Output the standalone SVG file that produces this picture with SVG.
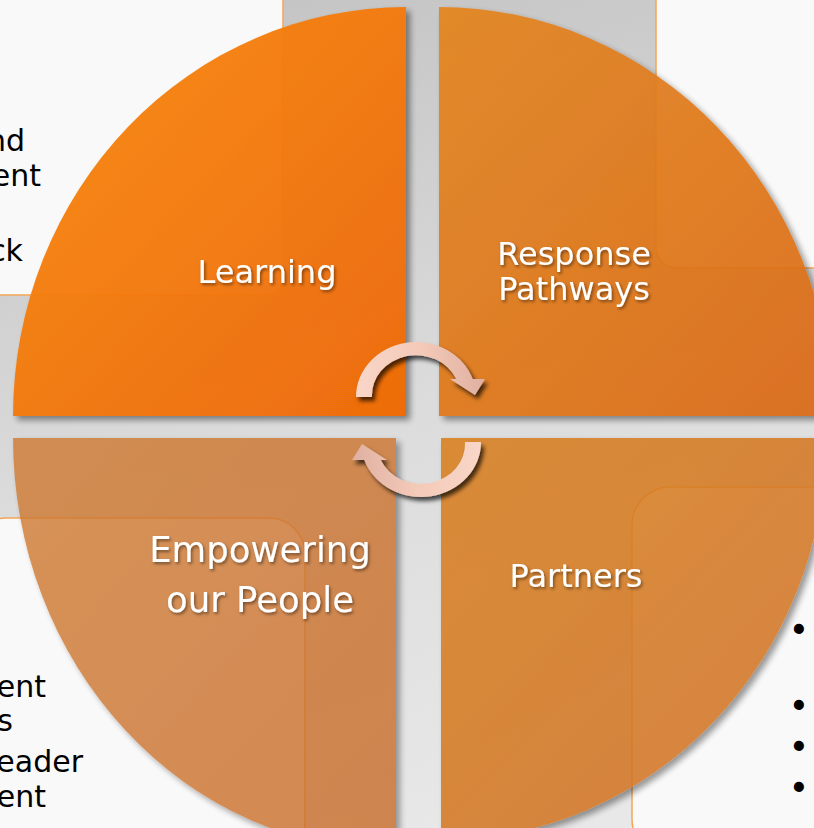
<svg xmlns="http://www.w3.org/2000/svg" width="814" height="828" viewBox="0 0 814 828">
<defs>
<linearGradient id="bg" gradientUnits="userSpaceOnUse" x1="300" y1="0" x2="520" y2="828">
<stop offset="0" stop-color="#c5c5c5"/><stop offset="0.5" stop-color="#dcdcdc"/><stop offset="1" stop-color="#e8e8e8"/>
</linearGradient>
<linearGradient id="gTL" x1="0" y1="0" x2="1" y2="1">
<stop offset="0" stop-color="#f88a12"/><stop offset="1" stop-color="#ee6805"/>
</linearGradient>
<linearGradient id="gTR" x1="0" y1="0" x2="1" y2="1">
<stop offset="0" stop-color="#e4851f"/><stop offset="1" stop-color="#da6812"/>
</linearGradient>
<linearGradient id="gBL" x1="0" y1="0" x2="1" y2="1">
<stop offset="0" stop-color="#cf7a30"/><stop offset="1" stop-color="#c96c2a"/>
</linearGradient>
<linearGradient id="gBR" x1="0" y1="0" x2="1" y2="1">
<stop offset="0" stop-color="#d9801f"/><stop offset="1" stop-color="#d0722a"/>
</linearGradient>
<linearGradient id="gArrow" x1="0" y1="0" x2="1" y2="0">
<stop offset="0" stop-color="#f8d6c8"/><stop offset="0.5" stop-color="#f4cab9"/><stop offset="1" stop-color="#dfb0a1"/>
</linearGradient>
<filter id="shadow" x="-10%" y="-10%" width="125%" height="125%">
<feDropShadow dx="4" dy="4" stdDeviation="3" flood-color="#000" flood-opacity="0.45"/>
</filter>
<filter id="ashadow" x="-20%" y="-20%" width="150%" height="150%">
<feDropShadow dx="3" dy="4" stdDeviation="2" flood-color="#000" flood-opacity="0.7"/>
</filter>
<filter id="tshadow" x="-10%" y="-20%" width="130%" height="150%">
<feDropShadow dx="1.5" dy="2" stdDeviation="1.5" flood-color="#000" flood-opacity="0.45"/>
</filter>
<path id="arrowTop" d="M 356 397 A 60 55 0 0 1 472.7 379 L 485 379 L 475 395 L 450 379 L 456.2 379 A 44 40 0 0 0 372 397 Z"/>
</defs>
<style>
.box{fill:#f9f9f9;stroke:#f2a65a;stroke-width:1.5}
.side{font-family:"DejaVu Sans",Verdana,sans-serif;font-size:30px;fill:#000}
.lab{font-family:"DejaVu Sans",Verdana,sans-serif;fill:#fff;text-anchor:middle}
.bul{font-family:"Liberation Sans",Arial,sans-serif;font-size:35px;font-weight:bold;fill:#000;text-anchor:middle}
</style>
<rect x="0" y="0" width="814" height="828" fill="url(#bg)"/>
<g id="box-tl"><rect class="box" x="-30" y="-30" width="313" height="325" rx="16"/>
<text class="side" x="25" y="151" text-anchor="end">nd</text>
<text class="side" x="41" y="186" text-anchor="end">ent</text>
<text class="side" x="23" y="261" text-anchor="end">ck</text></g>
<g id="box-tr"><rect class="box" x="656" y="-30" width="200" height="298" rx="20"/></g>
<g id="box-bl"><rect class="box" x="-30" y="518" width="335" height="340" rx="36"/>
<text class="side" x="46" y="697" text-anchor="end">ent</text>
<text class="side" x="13" y="731" text-anchor="end">s</text>
<text class="side" x="83" y="772" text-anchor="end">eader</text>
<text class="side" x="46" y="807" text-anchor="end">ent</text></g>
<g id="box-br"><rect class="box" x="632" y="487" width="220" height="370" rx="38"/>
<text class="bul" x="799" y="641">•</text>
<text class="bul" x="799" y="717">•</text>
<text class="bul" x="799" y="758">•</text>
<text class="bul" x="799" y="799">•</text></g>
<g id="learning"><path d="M406 416 L13 416 A393 409 0 0 1 406 7 Z" fill="url(#gTL)" opacity="0.96" filter="url(#shadow)"/>
<text class="lab" x="267" y="283" font-size="32" filter="url(#tshadow)">Learning</text></g>
<g id="response-pathways"><path d="M439 416 L439 7 A393 409 0 0 1 832 416 Z" fill="url(#gTR)" opacity="0.92" filter="url(#shadow)"/>
<text class="lab" x="574" y="265" font-size="32" filter="url(#tshadow)"><tspan x="574">Response</tspan><tspan x="574" y="300">Pathways</tspan></text></g>
<g id="empowering"><path d="M396 438 L396 851 A383 413 0 0 1 13 438 Z" fill="url(#gBL)" opacity="0.8" filter="url(#shadow)"/>
<text class="lab" x="260" y="562" font-size="35.5" filter="url(#tshadow)"><tspan x="260">Empowering</tspan><tspan x="260" y="612">our People</tspan></text></g>
<g id="partners"><path d="M441 438 L826 438 A385 402 0 0 1 441 840 Z" fill="url(#gBR)" opacity="0.88" filter="url(#shadow)"/>
<text class="lab" x="576" y="587" font-size="32" filter="url(#tshadow)">Partners</text></g>
<g id="connectors">
<g filter="url(#ashadow)"><use href="#arrowTop" fill="url(#gArrow)"/></g>
<g filter="url(#ashadow)"><use href="#arrowTop" fill="url(#gArrow)" transform="rotate(180 418.5 419.5)"/></g>
</g>
</svg>
